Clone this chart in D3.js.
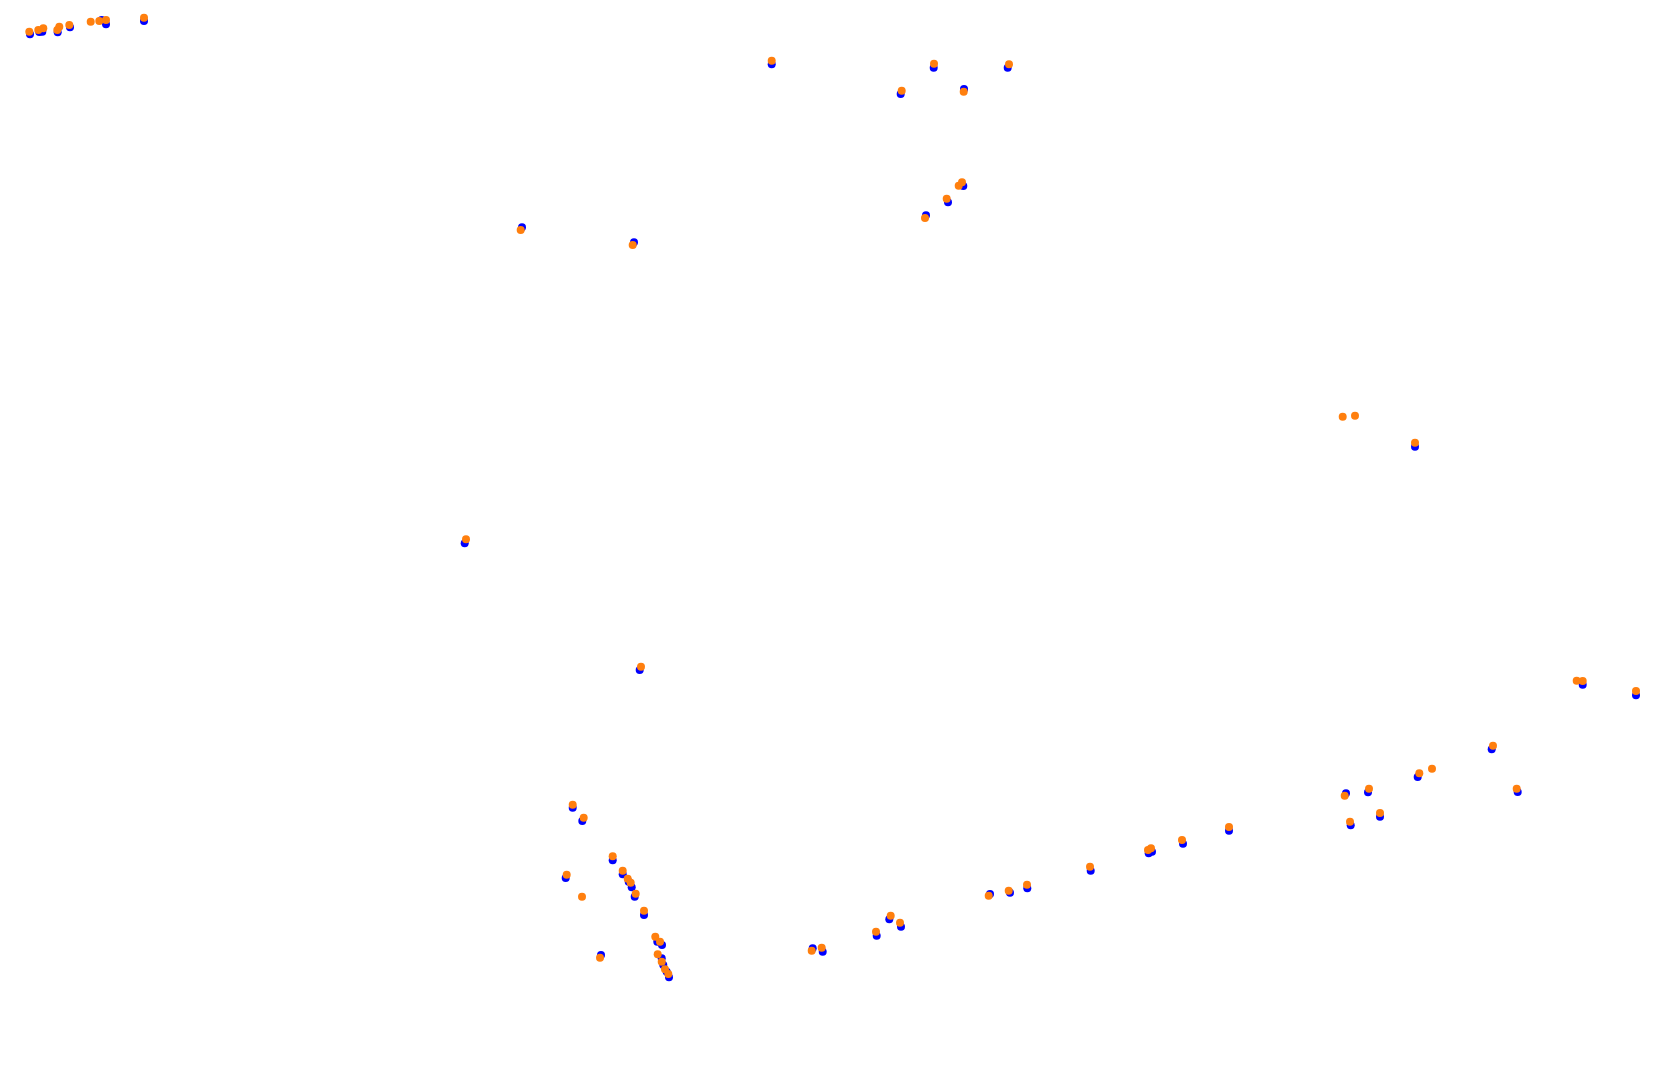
<!DOCTYPE html>
<html>
<head>
<meta charset="utf-8">
<script src="https://cdn.jsdelivr.net/npm/d3@7"></script>
<style>
html, body { margin: 0; padding: 0; background: #ffffff; overflow: hidden; }
svg { display: block; }
</style>
</head>
<body>
<script>
// Blue series (x, y)
const blueX = [30,39.3,42.3,57.7,70,101.7,106,144,771.7,900.7,933.7,964,1007.7,522,634,926,948,963.3,1415,464.7,639.7,572.7,582.3,612.7,565.7,622.7,628.7,631.7,634.7,644,657.3,662,601,661.7,663.3,666.7,669,812.7,822.7,876.7,889.3,901,990,1010,1027.3,1090.7,1148.7,1152,1183,1229,1582.7,1636,1491.7,1417.7,1368,1346,1517.7,1380,1350.7];
const blueY = [34.3,32,31.7,32.3,27.3,20,24.3,21,64.3,94,67.7,89,67.7,227.3,242.3,215.3,202.3,186,446.7,543.3,670,807.7,821,860.3,878,874.3,881.7,887.3,896.7,915,941.7,945,955,958.3,965,971.7,977.3,948.3,951.7,935.7,919.3,926.7,894,892.7,888.3,870.7,853.3,851.7,843.7,830.7,684.7,695.3,749.3,777,792.3,793.3,792,816.7,825.3];

// Orange series (x, y)
const orangeX = [29.3,38.3,43.3,57.3,59.3,69.3,90.7,99.3,106,144,771.7,901.7,934,963.7,1009,520.7,632.7,925,946.7,958.7,962,1342.7,1355,1415,466,641,572.7,583.7,612.7,566.7,622.7,627.7,630.7,635.7,582,644,655.3,660,600,657.7,661.7,665,668.3,811.7,821.7,876,890.7,900,988.7,1008.7,1027,1090,1148,1151,1182,1229,1576.7,1582.7,1636,1493,1419.3,1432,1369,1344.7,1516.7,1380,1350];
const orangeY = [31.7,30,28.3,30,26.7,25,21.7,21,20,17.7,60.7,90.7,63.7,91.7,64.3,230,245,218,198.7,185.7,182.3,416.7,415.7,442.7,539.3,666.7,804.7,817.7,856.3,874.7,870.7,878.7,882.7,893.7,896.7,910.7,936.7,941.7,957.7,954.3,961.7,969.3,974,950.7,947.7,931.7,915.7,922.7,895.7,890.7,884.7,866.7,850,848.3,840,827,680.7,681,691,745.7,773.3,768.7,788.7,795.7,788.7,813,821.7];

const W = 1680, H = 1077;
const svg = d3.select("body").append("svg").attr("width", W).attr("height", H);

const x = d3.scaleLinear().domain([0, 1680]).range([0, W]);
const y = d3.scaleLinear().domain([0, 1077]).range([0, H]);

const blue = blueX.map((v, i) => ({x: v, y: blueY[i]}));
const orange = orangeX.map((v, i) => ({x: v, y: orangeY[i]}));

svg.append("g").selectAll("circle").data(blue).join("circle")
  .attr("cx", d => x(d.x)).attr("cy", d => y(d.y)).attr("r", 4)
  .attr("fill", "#0000ff");

svg.append("g").selectAll("circle").data(orange).join("circle")
  .attr("cx", d => x(d.x)).attr("cy", d => y(d.y)).attr("r", 4)
  .attr("fill", "#ff7f0e");
</script>
</body>
</html>
